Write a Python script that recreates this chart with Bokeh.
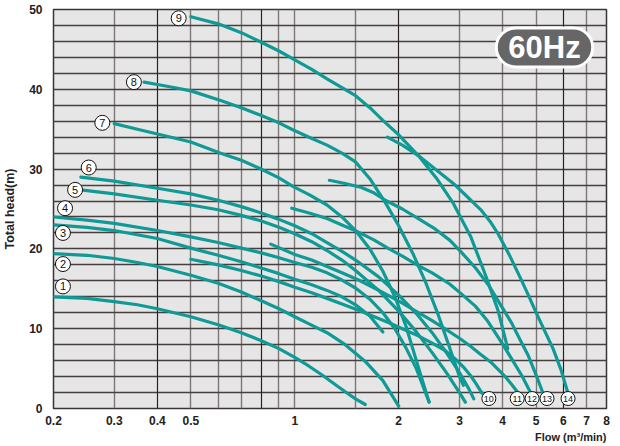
from bokeh.plotting import figure
from bokeh.models import Range1d, FixedTicker, Grid, Label, Title
from bokeh.core.properties import value
from bokeh.embed import file_html
from bokeh.resources import INLINE

# ---- data (flow m3/min, head m) ----
c1_q = [0.2, 0.25, 0.3, 0.35, 0.4, 0.5, 0.6, 0.7, 0.8, 0.9, 1.0, 1.1, 1.2, 1.3, 1.4, 1.5, 1.6]
c1_h = [14.0, 13.8, 13.4, 13.0, 12.5, 11.5, 10.5, 9.5, 8.5, 7.5, 6.4, 5.3, 4.2, 3.1, 2.1, 1.2, 0.5]
c2_q = [0.2, 0.25, 0.3, 0.35, 0.4, 0.5, 0.6, 0.7, 0.8, 0.9, 1.0, 1.1, 1.24, 1.4, 1.6, 1.8, 2.0]
c2_h = [19.4, 19.2, 18.8, 18.3, 17.8, 16.7, 15.7, 14.6, 13.5, 12.5, 11.5, 10.6, 9.5, 8.0, 5.9, 3.5, 0.3]
c3_q = [0.2, 0.25, 0.3, 0.4, 0.5, 0.6, 0.7, 0.8, 0.9, 1.0, 1.12, 1.24, 1.37, 1.5, 1.65, 1.8]
c3_h = [23.0, 22.7, 22.3, 21.3, 20.1, 19.2, 18.4, 17.6, 16.9, 16.2, 15.5, 14.8, 14.0, 13.0, 11.6, 9.6]
c4_q = [0.2, 0.25, 0.3, 0.4, 0.5, 0.6, 0.7, 0.8, 0.9, 1.0, 1.12, 1.24, 1.37, 1.5, 1.65, 1.8, 1.95, 2.1, 2.25, 2.45]
c4_h = [24.0, 23.6, 23.2, 22.3, 21.5, 20.8, 20.1, 19.5, 18.9, 18.3, 17.7, 17.0, 16.1, 15.1, 13.7, 12.0, 10.0, 7.6, 5.0, 0.8]
c5_q = [0.24, 0.3, 0.4, 0.5, 0.6, 0.7, 0.8, 0.9, 1.0, 1.12, 1.24, 1.37, 1.5, 1.75, 2.0, 2.25, 2.5, 2.75, 3.0, 3.12]
c5_h = [27.4, 26.9, 26.1, 25.5, 24.9, 24.2, 23.5, 22.7, 21.9, 20.9, 19.8, 18.6, 17.3, 14.8, 12.2, 9.6, 7.0, 4.5, 2.0, 0.8]
c6_q = [0.24, 0.3, 0.4, 0.5, 0.6, 0.7, 0.8, 0.9, 1.0, 1.12, 1.24, 1.37, 1.5, 1.75, 2.0, 2.25, 2.5, 2.75, 3.0, 3.2, 3.3]
c6_h = [29.0, 28.5, 27.6, 26.9, 26.1, 25.3, 24.5, 23.7, 22.9, 21.9, 20.8, 19.7, 18.6, 16.5, 14.2, 11.9, 9.5, 7.0, 4.5, 2.4, 1.2]
c7_q = [0.3, 0.35, 0.4, 0.5, 0.61, 0.7, 0.79, 0.9, 0.99, 1.1, 1.24, 1.37, 1.5, 1.65, 1.8, 1.95, 2.1, 2.25, 2.45]
c7_h = [35.7, 35.0, 34.4, 33.4, 32.0, 31.1, 30.1, 28.9, 27.8, 26.8, 25.5, 24.0, 22.3, 20.0, 17.2, 14.0, 10.3, 6.0, 0.8]
c8_q = [0.366, 0.4, 0.45, 0.5, 0.61, 0.7, 0.79, 0.9, 0.99, 1.1, 1.24, 1.37, 1.5, 1.65, 1.83, 2.0, 2.2, 2.4, 2.6, 2.8, 3.0, 3.08]
c8_h = [40.9, 40.6, 40.2, 39.8, 38.6, 37.7, 36.8, 35.8, 34.9, 34.0, 33.0, 32.0, 30.9, 28.8, 25.8, 22.9, 19.4, 15.7, 11.8, 7.8, 4.0, 2.9]
c9_q = [0.5, 0.6, 0.7, 0.8, 0.9, 1.0, 1.12, 1.24, 1.37, 1.5, 1.65, 1.8, 2.0, 2.28, 2.57, 2.88, 3.23, 3.57, 3.88, 4.14]
c9_h = [49.1, 48.2, 47.1, 45.9, 44.8, 43.7, 42.5, 41.3, 40.2, 39.2, 37.7, 36.1, 34.3, 31.7, 28.9, 25.7, 21.6, 16.7, 12.3, 7.5]
c10_q = [0.5, 0.6, 0.7, 0.8, 0.9, 1.0, 1.12, 1.24, 1.37, 1.53, 1.7, 1.86, 2.05, 2.28, 2.5, 2.72, 2.9, 3.08, 3.22, 3.34, 3.42, 3.49]
c10_h = [18.7, 18.0, 17.3, 16.6, 15.9, 15.2, 14.5, 13.8, 13.1, 12.3, 11.5, 10.8, 10.0, 9.1, 8.2, 7.3, 6.3, 5.2, 4.2, 3.2, 2.5, 1.9]
c11_q = [0.852, 1.0, 1.12, 1.24, 1.37, 1.53, 1.7, 1.86, 2.05, 2.28, 2.5, 2.72, 3.0, 3.23, 3.45, 3.7, 3.9, 4.09, 4.25, 4.43]
c11_h = [20.6, 19.3, 18.6, 17.8, 17.0, 16.1, 15.1, 14.2, 13.2, 12.0, 11.0, 10.0, 8.8, 7.8, 6.8, 5.8, 4.8, 3.9, 3.0, 2.0]
c12_q = [0.98, 1.1, 1.24, 1.37, 1.53, 1.7, 1.86, 2.05, 2.28, 2.5, 2.81, 3.05, 3.34, 3.6, 3.82, 4.05, 4.28, 4.55, 4.82]
c12_h = [25.1, 24.5, 23.8, 23.0, 22.1, 21.1, 20.1, 19.1, 17.9, 17.0, 15.6, 14.3, 12.8, 11.1, 9.4, 7.7, 6.0, 4.1, 2.0]
c13_q = [1.26, 1.4, 1.56, 1.7, 1.83, 2.05, 2.28, 2.55, 2.81, 3.05, 3.34, 3.65, 3.96, 4.25, 4.51, 4.75, 4.97, 5.23]
c13_h = [28.6, 28.2, 27.7, 27.0, 26.1, 25.0, 23.8, 22.5, 21.1, 19.5, 17.6, 15.4, 12.9, 10.7, 8.5, 6.6, 4.5, 2.0]
c14_q = [1.855, 2.05, 2.28, 2.55, 2.88, 3.15, 3.46, 3.7, 3.88, 4.2, 4.51, 4.75, 5.03, 5.3, 5.6, 5.9, 6.18]
c14_h = [34.0, 33.0, 31.7, 30.0, 28.2, 26.6, 24.9, 23.3, 21.9, 19.1, 16.3, 14.2, 11.8, 9.7, 7.5, 4.9, 2.0]

curve_q = [c1_q, c2_q, c3_q, c4_q, c5_q, c6_q, c7_q, c8_q, c9_q, c10_q, c11_q, c12_q, c13_q, c14_q]
curve_h = [c1_h, c2_h, c3_h, c4_h, c5_h, c6_h, c7_h, c8_h, c9_h, c10_h, c11_h, c12_h, c13_h, c14_h]

start_tags = ["1", "2", "3", "4", "5", "6", "7", "8", "9"]
start_tag_q = [0.213, 0.213, 0.213, 0.216, 0.231, 0.253, 0.277, 0.342, 0.461]
start_tag_h = [15.3, 18.1, 22.0, 25.1, 27.4, 30.2, 35.8, 40.9, 48.9]
end_tags = ["10", "11", "12", "13", "14"]
end_tag_q = [3.65, 4.41, 4.87, 5.38, 6.19]
end_tag_h = [1.25, 1.25, 1.25, 1.25, 1.25]

x_ticks = [0.2, 0.3, 0.4, 0.5, 1, 2, 3, 4, 5, 6, 7, 8]
x_tick_labels = ["0.2", "0.3", "0.4", "0.5", "1", "2", "3", "4", "5", "6", "7", "8"]
y_ticks = [0, 10, 20, 30, 40, 50]

FONT = "Liberation Sans"
TEAL = "#0f9a96"

p = figure(width=618, height=444, x_axis_type="log",
           x_range=Range1d(0.2, 8), y_range=Range1d(0, 50),
           output_backend="svg", toolbar_location=None,
           min_border_left=53, min_border_right=12, min_border_top=9, min_border_bottom=36)
p.background_fill_color = "#e6e6e6"
p.border_fill_color = "white"
p.outline_line_color = "#3a3434"
p.outline_line_width = 1.5

# grids
p.xgrid.ticker = FixedTicker(ticks=[0.3, 0.5, 0.6, 0.7, 0.9, 1, 1.5, 3, 4, 5, 7])
p.xgrid.grid_line_color = "#7d7676"
p.xgrid.grid_line_width = 1.4
dark_grid = Grid(dimension=0, ticker=FixedTicker(ticks=[0.4, 0.8, 2, 6]),
                 grid_line_color="#2a2222", grid_line_width=1.2)
p.add_layout(dark_grid)
p.ygrid.ticker = FixedTicker(ticks=list(range(2, 50, 2)))
p.ygrid.grid_line_color = "#473f3f"
p.ygrid.grid_line_width = 1.3

# axes
p.xaxis.ticker = FixedTicker(ticks=x_ticks)
p.xaxis.major_label_overrides = {t: s for t, s in zip(x_ticks, x_tick_labels)}
p.yaxis.ticker = FixedTicker(ticks=y_ticks)
for ax in (p.xaxis, p.yaxis):
    ax.axis_line_color = None
    ax.major_tick_line_color = None
    ax.minor_tick_line_color = None
    ax.major_label_text_font = FONT
    ax.major_label_text_font_style = "bold"
    ax.major_label_text_font_size = "12px"
    ax.major_label_text_color = "#222222"
p.xaxis.major_label_standoff = 1
p.yaxis.major_label_standoff = 5
p.yaxis.axis_label = "Total head(m)"
p.yaxis.axis_label_text_font = FONT
p.yaxis.axis_label_text_font_style = "bold"
p.yaxis.axis_label_text_font_size = "12.5px"
p.yaxis.axis_label_text_color = "#222222"
p.yaxis.axis_label_standoff = 9

# x axis title, bottom right
p.add_layout(Title(text="Flow (m³/min)", align="right", text_font=FONT,
                   text_font_style="bold", text_font_size="11px", text_color="#222222",
                   standoff=2), "below")

# curves
for q, h in zip(curve_q, curve_h):
    p.line(q, h, line_color=TEAL, line_width=3.2, line_cap="round", line_join="round")

# circled tags
p.scatter(start_tag_q, start_tag_h, marker="circle", size=15, fill_color="white",
          line_color="#111111", line_width=1)
p.text(start_tag_q, start_tag_h, text=start_tags, text_align="center", text_baseline="middle",
       text_font=value(FONT), text_font_size="11px", text_color="#111111")
p.scatter(end_tag_q, end_tag_h, marker="circle", size=14, fill_color="white",
          line_color="#111111", line_width=1)
p.text(end_tag_q, end_tag_h, text=end_tags, text_align="center", text_baseline="middle",
       text_font=value(FONT), text_font_size="9px", text_color="#111111")

# 60Hz badge
badge = Label(x=491, y=361, x_units="screen", y_units="screen", text="60Hz",
              text_align="center", text_baseline="middle", text_font=FONT,
              text_font_style="bold", text_font_size="31px", text_color="white",
              background_fill_color="#666666", border_line_color="white",
              border_line_width=3, border_radius=20, padding=(12, 2))
p.add_layout(badge)

open("out.html", "w").write(file_html(p, INLINE))
